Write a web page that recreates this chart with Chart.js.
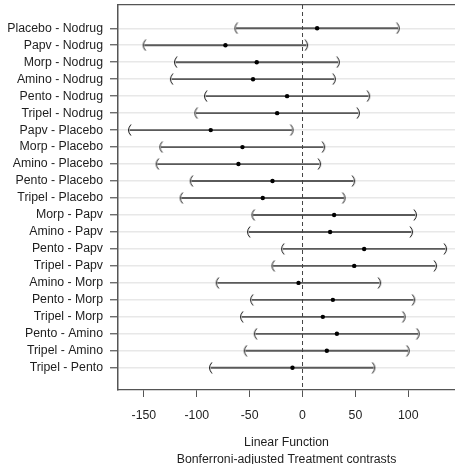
<!DOCTYPE html>
<html>
<head>
<meta charset="utf-8">
<script src="https://cdn.jsdelivr.net/npm/chart.js@4/dist/chart.umd.min.js"></script>
<style>
  html, body { margin: 0; padding: 0; background: #fff; }
  #wrap { width: 455px; height: 464px; }
</style>
</head>
<body>
<div id="wrap"><canvas id="ciChart" width="455" height="464"></canvas></div>
<script>
// comparisons, top to bottom
var contrasts = ["Placebo - Nodrug", "Papv - Nodrug", "Morp - Nodrug", "Amino - Nodrug",
    "Pento - Nodrug", "Tripel - Nodrug", "Papv - Placebo", "Morp - Placebo",
    "Amino - Placebo", "Pento - Placebo", "Tripel - Placebo", "Morp - Papv",
    "Amino - Papv", "Pento - Papv", "Tripel - Papv", "Amino - Morp",
    "Pento - Morp", "Tripel - Morp", "Pento - Amino", "Tripel - Amino", "Tripel - Pento"];
var estimate = [13.8, -72.9, -43.3, -46.8, -14.6, -24.0, -86.8, -56.8, -60.6, -28.4, -37.6,
    29.9, 26.1, 58.3, 48.9, -3.8, 28.7, 19.2, 32.5, 23.0, -9.5];
var lower = [-62.5, -149.3, -119.7, -123.5, -91.3, -100.4, -163.2, -133.5, -137.0, -104.8, -114.3,
    -46.4, -50.6, -18.4, -27.5, -80.2, -47.7, -57.2, -44.2, -53.7, -86.6];
var upper = [90.0, 3.4, 33.4, 29.6, 62.1, 52.4, -10.4, 19.5, 15.7, 47.9, 38.8,
    106.3, 102.6, 134.8, 125.3, 72.5, 104.7, 95.6, 108.9, 99.4, 66.9];
var xTicks = [-150, -100, -50, 0, 50, 100];
var refValue = 0;

var xMin = -174.5, xMax = 144.2;
var yMin = -1.37, yMax = 21.31;

var axisGray = "#555555";
var textCol = "#1e1e1e";
var fontFam = "'Liberation Sans', Arial, Helvetica, sans-serif";

// little "(" and ")" marks for the interval ends
function makeBracket(side) {
    var c = document.createElement("canvas");
    c.width = 8;
    c.height = 12;
    var g = c.getContext("2d");
    g.strokeStyle = "#111";
    g.lineWidth = 1;
    g.beginPath();
    if (side == "left") {
        g.moveTo(5, 0.5);
        g.quadraticCurveTo(0, 6, 5, 11.5);
    } else {
        g.moveTo(3, 0.5);
        g.quadraticCurveTo(8, 6, 3, 11.5);
    }
    g.stroke();
    return c;
}

var rows = contrasts.map(function (_, i) { return i; });

var ctx = document.getElementById("ciChart").getContext("2d");
var ciChart = new Chart(ctx, {
    data: {
        datasets: [{
            type: "scatter",
            data: rows.map(function (i) { return { x: estimate[i], y: i }; }),
            backgroundColor: "#000",
            borderColor: "#000",
            pointRadius: 2.2,
            pointBorderWidth: 0
        }, {
            type: "line",
            data: [{ x: refValue, y: yMin }, { x: refValue, y: yMax }],
            borderColor: "#444",
            borderWidth: 1,
            borderDash: [4, 3],
            pointRadius: 0,
            fill: false
        }, {
            type: "scatter",
            data: rows.map(function (i) { return { x: lower[i], y: i }; }),
            pointStyle: makeBracket("left"),
            pointRadius: 5
        }, {
            type: "scatter",
            data: rows.map(function (i) { return { x: upper[i], y: i }; }),
            pointStyle: makeBracket("right"),
            pointRadius: 5
        }, {
            type: "bar",
            indexAxis: "y",
            data: rows.map(function (i) { return { x: [lower[i], upper[i]], y: i }; }),
            backgroundColor: "#5a5a5a",
            borderWidth: 0,
            barThickness: 1.2
        }]
    },
    options: {
        responsive: false,
        animation: false,
        events: [],
        layout: { padding: 0, autoPadding: false },
        plugins: {
            legend: { display: false },
            tooltip: { enabled: false }
        },
        scales: {
            x: {
                type: "linear",
                position: "bottom",
                min: xMin,
                max: xMax,
                offset: false,
                afterBuildTicks: function (s) {
                    s.ticks = xTicks.map(function (v) { return { value: v }; });
                },
                afterFit: function (s) { s.height = 74; },
                grid: {
                    offset: false,
                    drawOnChartArea: false,
                    drawTicks: true,
                    tickLength: 7,
                    tickColor: axisGray,
                    tickWidth: 1
                },
                border: { color: axisGray, width: 1.3 },
                ticks: {
                    color: textCol,
                    padding: 11,
                    font: { family: fontFam, size: 12.3 },
                    callback: function (v) { return String(v); }
                },
                title: {
                    display: true,
                    text: ["Linear Function", "Bonferroni-adjusted Treatment contrasts"],
                    color: textCol,
                    font: { family: fontFam, size: 12.3, lineHeight: "16.3px" },
                    padding: { top: 0, bottom: -3.5 }
                }
            },
            xTop: {
                type: "linear",
                position: "top",
                min: xMin,
                max: xMax,
                afterFit: function (s) { s.height = 5; },
                ticks: { display: false },
                grid: { display: false, drawTicks: false },
                border: { display: true, color: axisGray, width: 1.3 }
            },
            y: {
                type: "linear",
                reverse: true,
                min: yMin,
                max: yMax,
                offset: false,
                afterBuildTicks: function (s) {
                    s.ticks = rows.map(function (i) { return { value: i }; });
                },
                afterFit: function (s) {
                    s.width = 118;
                    s.paddingTop = 0;
                    s.paddingBottom = 0;
                },
                grid: {
                    offset: false,
                    color: "#e8e8e8",
                    lineWidth: 1.5,
                    drawTicks: true,
                    tickLength: 8,
                    tickColor: axisGray,
                    tickWidth: 1.2
                },
                border: { color: axisGray, width: 1.5 },
                ticks: {
                    color: textCol,
                    padding: 7,
                    font: { family: fontFam, size: 12.3 },
                    callback: function (v) { return contrasts[v]; }
                }
            }
        }
    }
});
</script>
</body>
</html>
